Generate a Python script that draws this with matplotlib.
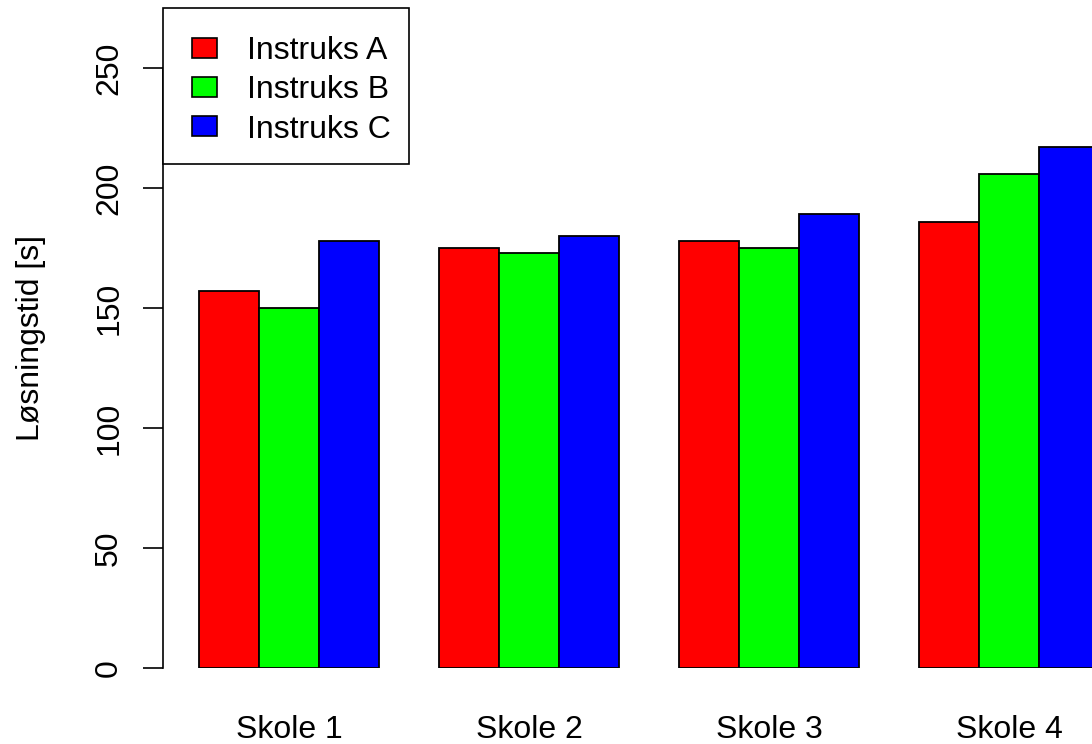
import numpy as np
import matplotlib
matplotlib.use("Agg")
import matplotlib.pyplot as plt
from matplotlib.patches import Rectangle

plt.rcParams['font.family'] = ['Liberation Sans', 'DejaVu Sans']

skoler = ["Skole 1", "Skole 2", "Skole 3", "Skole 4"]
instrukser = ["Instruks A", "Instruks B", "Instruks C"]
farger = ["#ff0000", "#00ff00", "#0000ff"]
tid_a = [157, 175, 178, 186]
tid_b = [150, 173, 175, 206]
tid_c = [178, 180, 189, 217]
yticks = [0, 50, 100, 150, 200, 250]

W, H = 1092, 744
fig = plt.figure(figsize=(W / 100, H / 100), dpi=100)
# plot region runs past the right edge, like the original device
ax = fig.add_axes([163 / W, 76 / H, 972 / W, 660 / H])

# grouped bars, R barplot style: width 1, one unit gap before each group
grupper = np.arange(len(skoler))
start = 1 + 4 * grupper
for i, verdier in enumerate([tid_a, tid_b, tid_c]):
    ax.bar(start + i, verdier, width=1, align='edge', color=farger[i],
           edgecolor='black', linewidth=1.3)

ax.set_xlim(0.4, 16.6)
ax.set_ylim(0, 275)

for side in ['top', 'right', 'bottom']:
    ax.spines[side].set_visible(False)
ax.spines['left'].set_bounds(0, 250)
ax.spines['left'].set_linewidth(1.2)

ax.set_xticks(start + 1.5)
ax.set_xticklabels(skoler, fontsize=23)
ax.tick_params(axis='x', length=0, pad=34)

ax.set_yticks(yticks)
ax.set_yticklabels([str(v) for v in yticks], fontsize=23, rotation=90,
                   va='center')
ax.tick_params(axis='y', length=14.4, width=1.2, pad=13.5)
ax.set_ylabel("Løsningstid [s]", fontsize=23, labelpad=35)

# legend box in the top-left corner, in pixel units from the top
def fx(x):
    return x / W

def fy(y):
    return 1 - y / H

fig.add_artist(Rectangle((fx(163), fy(164)), fx(409) - fx(163), fy(8) - fy(164),
                         transform=fig.transFigure, facecolor='white',
                         edgecolor='black', linewidth=1.2, zorder=5))
for i, (navn, farge) in enumerate(zip(instrukser, farger)):
    yc = 47.5 + 39.3 * i
    fig.add_artist(Rectangle((fx(192), fy(yc + 10)), fx(25), 20 / H,
                             transform=fig.transFigure, facecolor=farge,
                             edgecolor='black', linewidth=1.2, zorder=6))
    fig.text(fx(247), fy(yc + 11.7), navn, fontsize=23, va='baseline',
             ha='left', zorder=6)

fig.savefig("out.png", dpi=100)
